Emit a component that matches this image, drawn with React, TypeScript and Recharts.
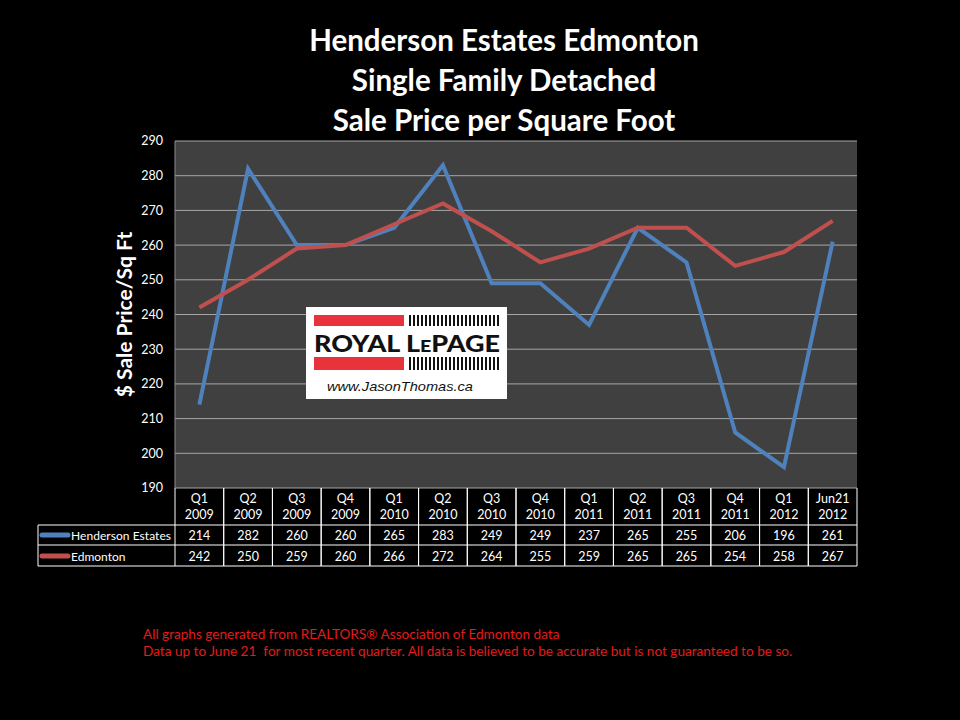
import React from 'react';
import { LineChart, Line, XAxis, YAxis, CartesianGrid } from 'recharts';

const periods = ['Q1', 'Q2', 'Q3', 'Q4', 'Q1', 'Q2', 'Q3', 'Q4', 'Q1', 'Q2', 'Q3', 'Q4', 'Q1', 'Jun21'];
const years = ['2009', '2009', '2009', '2009', '2010', '2010', '2010', '2010', '2011', '2011', '2011', '2011', '2012', '2012'];
const henderson = [214, 282, 260, 260, 265, 283, 249, 249, 237, 265, 255, 206, 196, 261];
const edmonton = [242, 250, 259, 260, 266, 272, 264, 255, 259, 265, 265, 254, 258, 267];
const yTicks = [190, 200, 210, 220, 230, 240, 250, 260, 270, 280, 290];
const seriesNames = ['Henderson Estates', 'Edmonton'];
const titleLines = ['Henderson Estates Edmonton', 'Single Family Detached', 'Sale Price per Square Foot'];
const footerLines = [
  'All graphs generated from REALTORS\u00AE Association of Edmonton data',
  'Data up to June 21  for most recent quarter. All data is believed to be accurate but is not guaranteed to be so.',
];

const BLUE = '#4F81BD';
const RED = '#C0504D';
const FONT = 'Lato, "Open Sans", sans-serif';

const data = periods.map((p, i) => ({
  key: String(i),
  period: p,
  year: years[i],
  henderson: henderson[i],
  edmonton: edmonton[i],
}));

const HALF = 682 / 14 / 2;

const TableTick = (props: any) => {
  const { x, y, payload } = props;
  const i = payload.index;
  const d = data[i];
  const l = x - HALF;
  const r = x + HALF;
  const stroke = '#ffffff';
  const legendLeft = 38;
  const fs = 12.5;
  return (
    <g>
      <line x1={l} y1={y} x2={l} y2={y + 78} stroke={stroke} strokeWidth={1} />
      <line x1={r} y1={y} x2={r} y2={y + 78} stroke={stroke} strokeWidth={1} />
      <line x1={l} y1={y + 37} x2={r} y2={y + 37} stroke={stroke} strokeWidth={1} />
      <line x1={l} y1={y + 57} x2={r} y2={y + 57} stroke={stroke} strokeWidth={1} />
      <line x1={l} y1={y + 78} x2={r} y2={y + 78} stroke={stroke} strokeWidth={1} />
      <text x={x} y={y + 15} textAnchor="middle" fill="#fff" fontSize={fs} fontFamily={FONT}>{d.period}</text>
      <text x={x} y={y + 31} textAnchor="middle" fill="#fff" fontSize={fs} fontFamily={FONT}>{d.year}</text>
      <text x={x} y={y + 52} textAnchor="middle" fill="#fff" fontSize={fs} fontFamily={FONT}>{d.henderson}</text>
      <text x={x} y={y + 73} textAnchor="middle" fill="#fff" fontSize={fs} fontFamily={FONT}>{d.edmonton}</text>
      {i === 0 && (
        <g>
          <line x1={legendLeft} y1={y + 37} x2={l} y2={y + 37} stroke={stroke} />
          <line x1={legendLeft} y1={y + 57} x2={l} y2={y + 57} stroke={stroke} />
          <line x1={legendLeft} y1={y + 78} x2={l} y2={y + 78} stroke={stroke} />
          <line x1={legendLeft} y1={y + 37} x2={legendLeft} y2={y + 78} stroke={stroke} />
          <line x1={42} y1={y + 47} x2={68} y2={y + 47} stroke={BLUE} strokeWidth={5} strokeLinecap="round" />
          <line x1={42} y1={y + 68} x2={68} y2={y + 68} stroke={RED} strokeWidth={5} strokeLinecap="round" />
          <text x={71} y={y + 52} fill="#fff" fontSize={12} fontFamily={FONT} textLength={100} lengthAdjust="spacing">{seriesNames[0]}</text>
          <text x={71} y={y + 73} fill="#fff" fontSize={12} fontFamily={FONT}>{seriesNames[1]}</text>
        </g>
      )}
    </g>
  );
};

const stripeXs = Array.from({ length: 23 }, (_, k) => 103 + k * 4);

const Logo = () => (
  <svg
    width={201}
    height={92}
    style={{ position: 'absolute', left: 306, top: 307 }}
  >
    <rect x={0} y={0} width={201} height={92} fill="#ffffff" />
    <rect x={8} y={8} width={90} height={11} fill="#E8333C" />
    <rect x={8} y={50} width={90} height={13} fill="#E8333C" />
    {stripeXs.map((sx) => (
      <g key={sx}>
        <rect x={sx} y={8} width={2} height={11} fill="#111" />
        <rect x={sx} y={50} width={2} height={13} fill="#111" />
      </g>
    ))}
    <text x={8} y={45} fontFamily={FONT} fontWeight={900} fontSize={22} fill="#111" textLength={186} lengthAdjust="spacingAndGlyphs">
      ROYAL L<tspan fontSize={16}>E</tspan>PAGE
    </text>
    <text x={21} y={84} fontFamily={'"Liberation Sans", Arial, sans-serif'} fontStyle="italic" fontSize={13} fill="#111" textLength={146} lengthAdjust="spacingAndGlyphs">
      www.JasonThomas.ca
    </text>
  </svg>
);

export default function App() {
  return (
    <div style={{ position: 'relative', width: 960, height: 720, background: '#000', overflow: 'hidden', fontFamily: FONT }}>
      <style>{`body{margin:0;background:#000;}`}</style>
      {titleLines.map((t, i) => (
        <div
          key={t}
          style={{
            position: 'absolute',
            left: 0,
            width: 1008,
            top: 21 + i * 40,
            textAlign: 'center',
            color: '#fff',
            fontWeight: 700,
            fontSize: 29.5,
            lineHeight: '38px',
            whiteSpace: 'pre',
          }}
        >
          {t}
        </div>
      ))}
      <LineChart
        width={960}
        height={720}
        data={data}
        margin={{ top: 141, right: 103, bottom: 154, left: 115 }}
      >
        <CartesianGrid vertical={false} stroke="#a6a6a6" fill="#404040" fillOpacity={1} />
        <XAxis
          dataKey="key"
          padding={{ left: HALF, right: HALF }}
          axisLine={false}
          tickLine={false}
          tickSize={0}
          tickMargin={0}
          height={78}
          interval={0}
          tick={<TableTick />}
        />
        <YAxis
          domain={[190, 290]}
          ticks={yTicks}
          type="number"
          width={60}
          axisLine={{ stroke: '#8c8c8c' }}
          tickLine={false}
          tickSize={0}
          tickMargin={12}
          tick={{ fill: '#ffffff', fontSize: 12.5, fontFamily: FONT }}
          label={{
            value: '$ Sale Price/Sq Ft',
            angle: -90,
            position: 'center',
            dx: -20,
            fill: '#ffffff',
            fontSize: 21,
            fontWeight: 700,
            fontFamily: FONT,
          }}
        />
        <Line
          type="linear"
          dataKey="henderson"
          name={seriesNames[0]}
          stroke={BLUE}
          strokeWidth={4}
          dot={false}
          isAnimationActive={false}
        />
        <Line
          type="linear"
          dataKey="edmonton"
          name={seriesNames[1]}
          stroke={RED}
          strokeWidth={4}
          dot={false}
          isAnimationActive={false}
        />
      </LineChart>
      <Logo />
      {footerLines.map((t, i) => (
        <div
          key={i}
          style={{
            position: 'absolute',
            left: 143,
            top: 626 + i * 17,
            color: '#e31b1b',
            fontSize: 13.6,
            lineHeight: '16px',
            whiteSpace: 'pre',
          }}
        >
          {t}
        </div>
      ))}
    </div>
  );
}
